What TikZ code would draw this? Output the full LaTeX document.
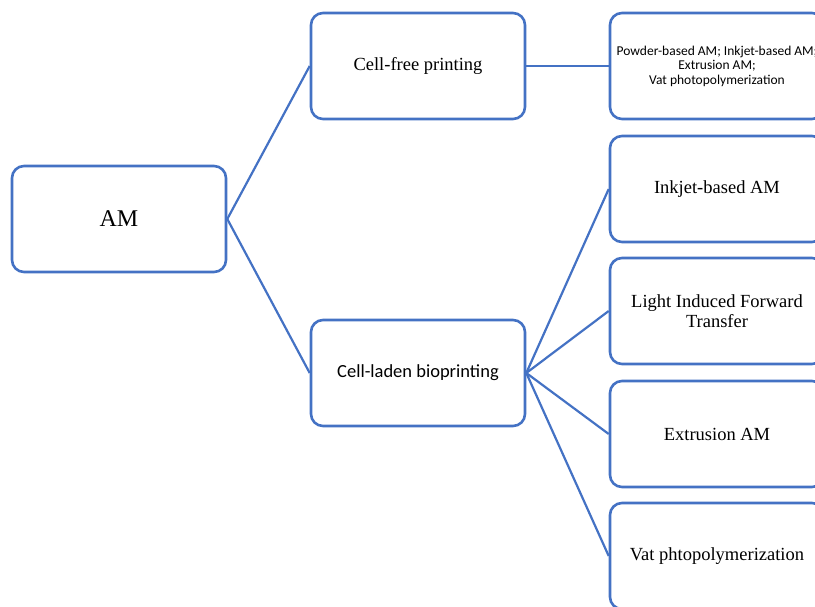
\documentclass[tikz,border=0pt]{standalone}
\usepackage{fontspec}
\setmainfont{Liberation Serif}
\newfontfamily\calfont{Carlito}
\usetikzlibrary{positioning}

\definecolor{amblue}{HTML}{4472C4}
\tikzset{
  box/.style={draw=amblue, line width=2.6pt, rounded corners=12pt, fill=white,
    minimum width=214pt, minimum height=106pt, align=center, font=\fontsize{18.5}{20}\selectfont},
  link/.style={draw=amblue, line width=2.2pt}
}

\begin{document}
\begin{tikzpicture}[x=1pt, y=-1pt]
    \useasboundingbox (0,0) rectangle (815,606);
    \clip (0,0) rectangle (815,606);
    % Root and the two kinds of printing
    \node [box, font=\fontsize{24}{28}\selectfont] (am) at (119,219) {AM};
    \node [box] (cellfree) at (418,66) {Cell-free printing};
    \node [box, font=\calfont\fontsize{18.5}{20}\selectfont] (cellladen) at (418,373) {Cell-laden bioprinting};
    % Techniques
    \node [box, font=\calfont\fontsize{13.5}{14.5}\selectfont] (powder) at (717,66)
        {Powder-based AM; Inkjet-based AM;\\ Extrusion AM;\\ Vat photopolymerization};
    \node [box] (inkjet) at (717,189) {Inkjet-based AM};
    \node [box] (lift) at (717,311) {Light Induced Forward\\ Transfer};
    \node [box] (extrusion) at (717,434) {Extrusion AM};
    \node [box] (vat) at (717,556) {Vat phtopolymerization};
    % Branches
    \draw [link] (am.east) -- (cellfree.west);
    \draw [link] (am.east) -- (cellladen.west);
    \draw [link] (cellfree.east) -- (powder.west);
    \foreach \t in {inkjet, lift, extrusion, vat}
        \draw [link] (cellladen.east) -- (\t.west);
\end{tikzpicture}
\end{document}
